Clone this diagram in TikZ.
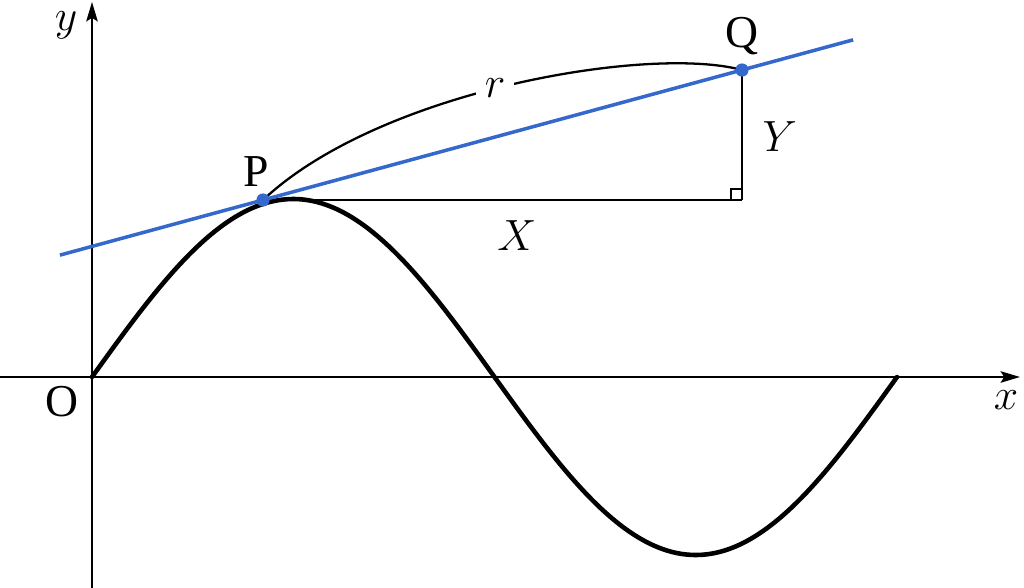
\documentclass[tikz,border=0pt]{standalone}
\usepackage{fontspec}
\setmainfont{Liberation Serif}
\usetikzlibrary{arrows.meta,calc}
\definecolor{tanblue}{RGB}{52,104,204}
\tikzset{
  axis/.style={line width=1.4pt,-{Stealth[length=11pt,width=6.5pt,inset=2pt]}},
  lbl/.style={font=\fontsize{26}{30}\selectfont,inner sep=1pt},
  mlbl/.style={font=\fontsize{29}{33}\selectfont,inner sep=1pt},
  dot/.style={circle,fill=tanblue,inner sep=0pt,minimum size=7.5pt}
}
\begin{document}
\begin{tikzpicture}[x=0.02cm,y=-0.02cm]
\useasboundingbox (0,0) rectangle (1024,588);
% axes
\coordinate (xs) at (0,377);
\coordinate (xe) at (1020,377);
\coordinate (ys) at (92,588);
\coordinate (ye) at (92,2);
\draw[axis] (xs) -- (xe);
\draw[axis] (ys) -- (ye);
\node[mlbl] (xl) at (1006,400) {$x$};
\node[mlbl,inner sep=0pt] (yl) at (66,25) {$y$};
\node[lbl] (o) at (62,402) {O};

% curve
\draw[line width=2.6pt,line cap=round,line join=round] plot[domain=92:897,samples=120,smooth] ({\x},{377-178*sin((\x-92)/805*360)});

% points
\coordinate (P) at (263,200);
\coordinate (Q) at (742,70);
\coordinate (C) at (742,200);
\coordinate (t1) at ($(P)!-0.424!(Q)$);
\coordinate (t2) at ($(P)!1.232!(Q)$);

\draw[line width=1.4pt] (P) -- node[mlbl,below=10pt,pos=0.53] (xlab) {$X$} (C);
\draw[line width=1.4pt] (C) -- node[mlbl,right=10pt,pos=0.49] (ylab) {$Y$} (Q);
\draw[line width=1.1pt] ($(C)+(-11,0)$) -- ++(0,-11) -- ++(11,0);

\draw[line width=1.3pt] (P) .. controls (380,90) and (650,45) .. node[pos=0.47,fill=white,mlbl,inner sep=5pt] (rl) {$r$} (Q);

\draw[tanblue,line width=2pt] (t1) -- (t2);
\node[dot] (pd) at (P) {};
\node[dot] (qd) at (Q) {};
\node[lbl] (pl) at (256,172) {P};
\node[lbl] (ql) at (742,36) {Q};
\end{tikzpicture}
\end{document}
